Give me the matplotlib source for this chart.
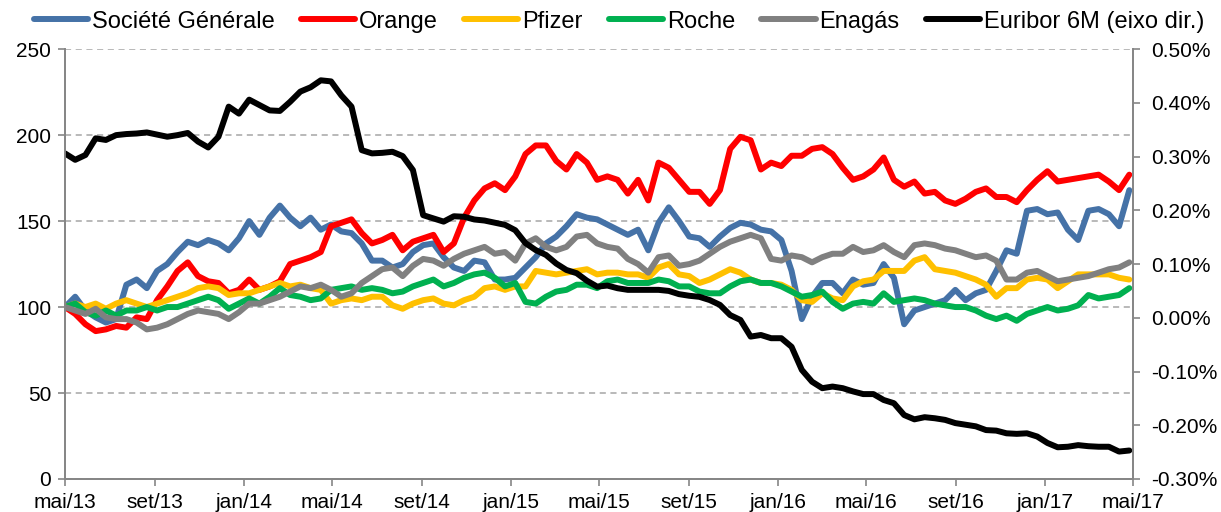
import numpy as np
import pandas as pd
import matplotlib
matplotlib.use("Agg")
import matplotlib.pyplot as plt
from matplotlib.ticker import FuncFormatter

plt.rcParams['font.family'] = ['Liberation Sans', 'DejaVu Sans']

# datas quinzenais (mai/13 -> mai/17)
dates = pd.date_range('2013-05-01', periods=105, freq='14D')

socgen = [100, 106, 98, 94, 91, 93, 113, 116, 111, 121, 125, 132, 138, 136, 139, 137, 133, 140, 150, 142,
          152, 159, 152, 147, 152, 145, 148, 144, 143, 137, 127, 127, 123, 125, 132, 136, 137, 129, 123, 121,
          127, 126, 116, 116, 117, 123, 129, 137, 141, 147, 154, 152, 151, 148, 145, 142, 145, 133, 149, 158,
          150, 141, 140, 135, 141, 146, 149, 148, 145, 144, 139, 121, 93, 106, 114, 114, 108, 116, 113, 114,
          125, 117, 90, 98, 100, 102, 104, 110, 104, 108, 110, 121, 133, 131, 156, 157, 154, 155, 145, 139,
          156, 157, 154, 147, 168]
orange = [100, 96, 90, 86, 87, 89, 88, 94, 93, 104, 112, 121, 126, 118, 115, 114, 108, 110, 116, 110,
          112, 115, 125, 127, 129, 132, 147, 149, 151, 143, 137, 139, 142, 133, 138, 140, 142, 132, 137, 152,
          162, 169, 172, 168, 176, 189, 194, 194, 185, 180, 189, 184, 174, 176, 174, 166, 174, 162, 184, 181,
          174, 167, 167, 160, 168, 192, 199, 197, 180, 184, 182, 188, 188, 192, 193, 189, 181, 174, 176, 180,
          187, 174, 170, 173, 166, 167, 162, 160, 163, 167, 169, 164, 164, 161, 168, 174, 179, 173, 174, 175,
          176, 177, 173, 168, 177]
pfizer = [100, 102, 100, 102, 99, 102, 104, 102, 100, 102, 104, 106, 108, 111, 112, 111, 107, 108, 108, 110,
          112, 114, 112, 113, 111, 110, 102, 104, 105, 104, 106, 106, 101, 99, 102, 104, 105, 102, 101, 104,
          106, 111, 112, 110, 112, 112, 121, 120, 119, 120, 121, 122, 119, 120, 120, 119, 119, 117, 123, 125,
          119, 118, 114, 116, 119, 122, 120, 116, 114, 114, 113, 110, 104, 103, 108, 105, 104, 112, 115, 116,
          121, 121, 121, 127, 129, 122, 121, 120, 118, 116, 113, 106, 111, 111, 116, 117, 116, 111, 115, 119,
          119, 119, 119, 117, 116]
roche = [100, 102, 97, 95, 98, 95, 98, 98, 100, 98, 100, 100, 102, 104, 106, 104, 99, 102, 105, 102,
         106, 111, 107, 106, 104, 105, 110, 111, 112, 110, 111, 110, 108, 109, 112, 114, 116, 112, 114, 117,
         119, 120, 117, 112, 114, 103, 102, 106, 109, 110, 113, 113, 111, 115, 116, 114, 114, 114, 116, 115,
         112, 112, 109, 108, 108, 112, 115, 116, 114, 114, 112, 109, 106, 107, 109, 103, 99, 102, 103, 102,
         108, 103, 104, 105, 104, 102, 101, 100, 100, 98, 95, 93, 95, 92, 96, 98, 100, 98, 99, 101,
         107, 105, 106, 107, 111]
enagas = [100, 98, 96, 99, 94, 93, 93, 91, 87, 88, 90, 93, 96, 98, 97, 96, 93, 97, 102, 102,
          104, 106, 109, 112, 111, 113, 110, 106, 108, 114, 118, 122, 123, 118, 124, 128, 127, 124, 128, 131,
          133, 135, 131, 132, 127, 137, 140, 135, 133, 135, 141, 142, 137, 135, 134, 128, 125, 120, 129, 130,
          124, 125, 127, 131, 135, 138, 140, 142, 140, 128, 127, 130, 129, 126, 129, 131, 131, 135, 132, 133,
          136, 132, 129, 136, 137, 136, 134, 133, 131, 129, 130, 127, 116, 116, 120, 121, 118, 115, 116, 117,
          118, 120, 122, 123, 126]
euribor = [0.306, 0.294, 0.303, 0.334, 0.331, 0.340, 0.342, 0.343, 0.345, 0.341, 0.337, 0.340, 0.344, 0.328, 0.317,
           0.337, 0.393, 0.380, 0.406, 0.396, 0.386, 0.385, 0.402, 0.421, 0.429, 0.442, 0.440, 0.414, 0.393, 0.312,
           0.306, 0.307, 0.309, 0.301, 0.275, 0.191, 0.185, 0.179, 0.189, 0.188, 0.183, 0.181, 0.177, 0.173, 0.163,
           0.139, 0.126, 0.117, 0.101, 0.089, 0.083, 0.069, 0.058, 0.060, 0.055, 0.052, 0.052, 0.052, 0.052, 0.050,
           0.044, 0.041, 0.039, 0.033, 0.024, 0.005, -0.004, -0.035, -0.032, -0.038, -0.038, -0.054, -0.097, -0.119, -0.131,
           -0.128, -0.131, -0.137, -0.142, -0.142, -0.153, -0.159, -0.181, -0.189, -0.185, -0.187, -0.190, -0.196, -0.199, -0.202,
           -0.209, -0.210, -0.215, -0.216, -0.215, -0.221, -0.233, -0.241, -0.240, -0.237, -0.239, -0.240, -0.240, -0.249, -0.247]

series = [("Société Générale", socgen, '#4572A7'),
          ("Orange", orange, '#FF0000'),
          ("Pfizer", pfizer, '#FFC000'),
          ("Roche", roche, '#00B050'),
          ("Enagás", enagas, '#808080')]

fig = plt.figure(figsize=(12.21, 5.12), dpi=100)
ax = fig.add_axes([0.0532, 0.0645, 0.8747, 0.8395])
ax2 = ax.twinx()

for name, vals, col in series:
    ax.plot(dates, vals, color=col, lw=4.3, label=name, solid_capstyle='round')
ax2.plot(dates, euribor, color='black', lw=4.3, label="Euribor 6M (eixo dir.)", solid_capstyle='round')

ax.set_ylim(0, 250)
ax.set_yticks([0, 50, 100, 150, 200, 250])
ax2.set_ylim(-0.30, 0.50)
ax2.set_yticks(np.arange(-0.30, 0.51, 0.10))
ax2.yaxis.set_major_formatter(FuncFormatter(lambda v, p: f"{v:.2f}%"))

ax.set_xlim(pd.Timestamp('2013-05-01'), pd.Timestamp('2017-05-01'))
ticks = pd.date_range('2013-05-01', '2017-05-01', freq='4MS')
meses = {1: 'jan', 5: 'mai', 9: 'set'}
ax.set_xticks(ticks)
ax.set_xticklabels([f"{meses[d.month]}/{d.strftime('%y')}" for d in ticks])

ax.yaxis.grid(True, color='#A6A6A6', linestyle=(0, (4, 3)), lw=1.1)
ax.set_axisbelow(True)

for a in (ax, ax2):
    a.spines['top'].set_visible(False)
    for s in ['left', 'right', 'bottom']:
        a.spines[s].set_color('#868686')
        a.spines[s].set_linewidth(1.3)
    a.tick_params(axis='both', colors='#868686', labelcolor='black', labelsize=15, length=5, width=1.2)
ax.tick_params(axis='y', pad=5)
ax.tick_params(axis='x', pad=5)
ax2.tick_params(axis='y', pad=8)

handles = ax.get_legend_handles_labels()[0] + ax2.get_legend_handles_labels()[0]
labels = ax.get_legend_handles_labels()[1] + ax2.get_legend_handles_labels()[1]
fig.legend(handles, labels, loc='center', bbox_to_anchor=(0.507, 0.958), ncol=6, frameon=False,
           fontsize=17, handlelength=2.3, handletextpad=0.17, columnspacing=1.1)

fig.savefig('out.png', dpi=100)
